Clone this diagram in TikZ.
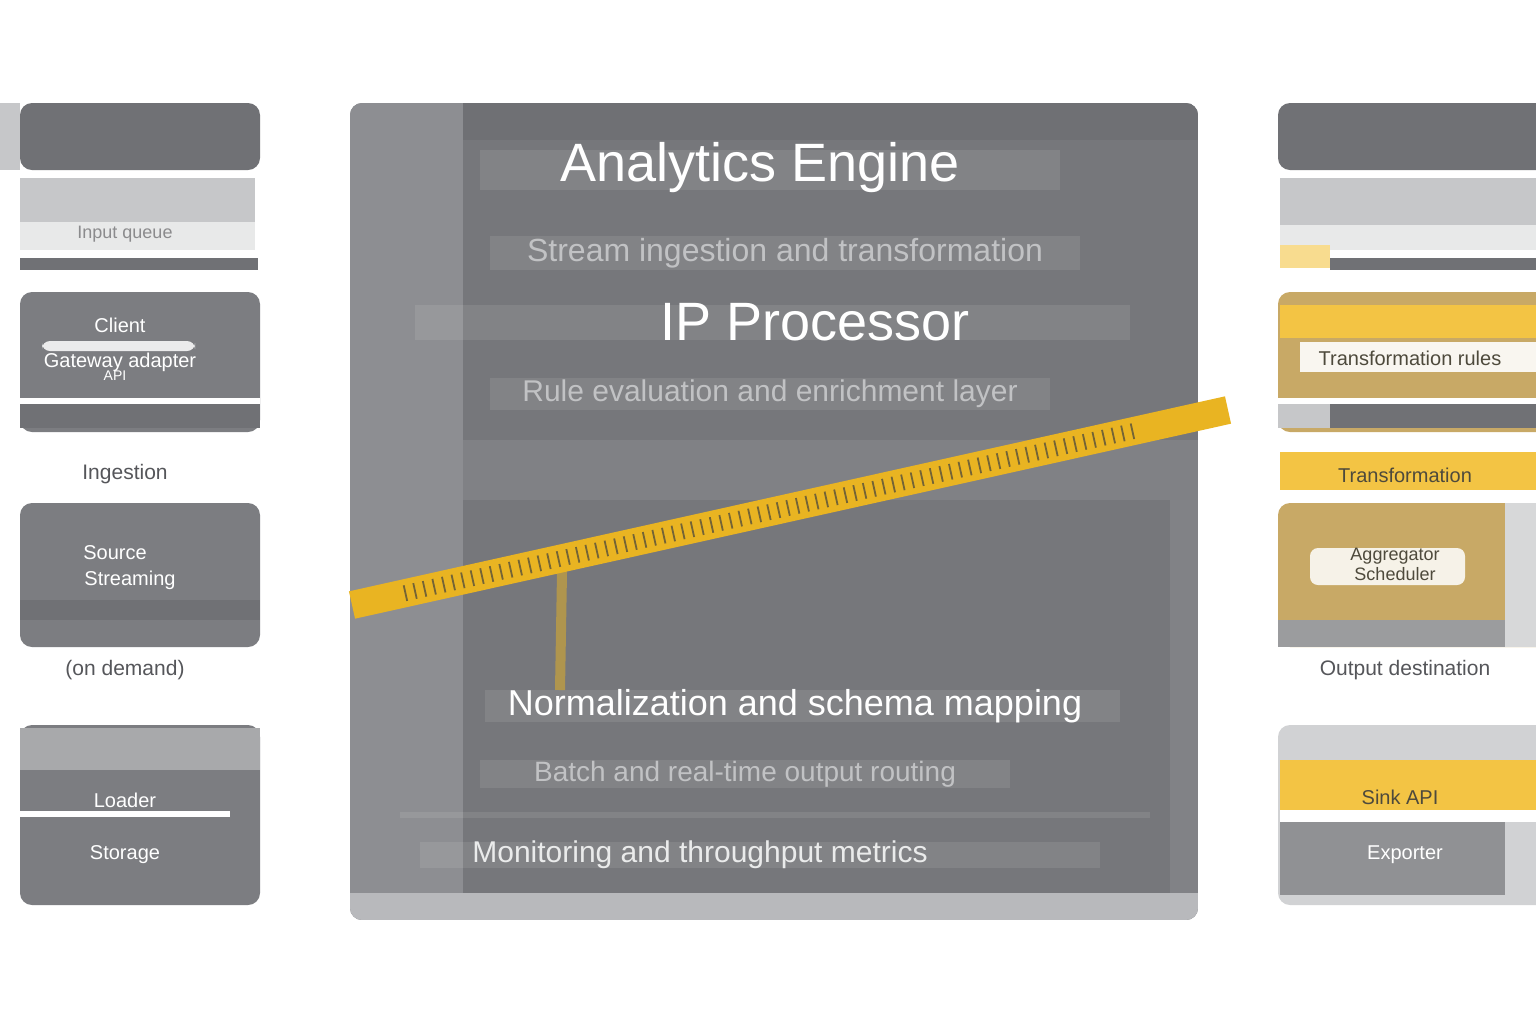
\documentclass[tikz,border=0pt]{standalone}
\usepackage{fontspec}
\setmainfont{Liberation Sans}
\usetikzlibrary{calc,positioning}
\definecolor{panelgray}{HTML}{76777B}
\definecolor{panelstrip}{HTML}{8D8E92}
\definecolor{panelfoot}{HTML}{B8B9BC}
\definecolor{darkbox}{HTML}{707175}
\definecolor{midbox}{HTML}{7C7D81}
\definecolor{lightbox}{HTML}{C6C7C9}
\definecolor{bandyellow}{HTML}{E9B422}
\definecolor{softyellow}{HTML}{F3C444}
\definecolor{tanbox}{HTML}{C8A966}
\definecolor{tickdark}{HTML}{4E4A3C}
\definecolor{labelgray}{HTML}{55565A}

\begin{document}
\begin{tikzpicture}[x=0.5pt,y=-0.5pt,
	boxtext/.style={text=white,font=\fontsize{10}{12}\selectfont},
	darktext/.style={text=tickdark,font=\fontsize{10}{12}\selectfont},
	sidelabel/.style={text=labelgray,font=\fontsize{10.5}{12}\selectfont},
	haze/.style={fill=white,opacity=0.09}]
			%%%%% START %%%%%
			\useasboundingbox (0,0) rectangle (1536,1024);
			\fill[white] (0,0) rectangle (1536,1024);
			
			% centre panel
			\begin{scope}
			\clip[rounded corners=6pt] (350,103) rectangle (1198,920);
			\fill[panelgray] (350,103) rectangle (1198,920);
			\fill[panelstrip] (350,103) rectangle (463,893);
			\fill[panelgray!94!black] (463,103) rectangle (1198,140);
			\fill[panelgray!55!panelstrip] (463,440) rectangle (1198,500);
			\fill[panelgray!92!white] (1170,500) rectangle (1198,893);
			\fill[panelfoot] (350,893) rectangle (1198,920);
			\end{scope}
			
			\fill[haze] (480,150) rectangle (1060,190);
			\fill[haze] (490,236) rectangle (1080,270);
			\fill[haze] (415,305) rectangle (1130,340);
			\fill[haze] (490,378) rectangle (1050,410);
			\fill[haze] (485,690) rectangle (1120,722);
			\fill[haze] (480,760) rectangle (1010,788);
			\fill[haze] (400,812) rectangle (1150,818);
			\fill[haze] (420,842) rectangle (1100,868);
			
			\node[text=white,font=\fontsize{27}{30}\selectfont] (title) at (760,168) {Analytics Engine};
			\node[text=white!55!panelgray,font=\fontsize{16}{19}\selectfont] (sub) at (785,253) {Stream ingestion and transformation};
			\node[text=white,font=\fontsize{27}{30}\selectfont] (proc) at (815,322) {IP Processor};
			\node[text=white!55!panelgray,font=\fontsize{15}{18}\selectfont] (rules) at (770,394) {Rule evaluation and enrichment layer};
			\node[text=white,font=\fontsize{18}{21}\selectfont] (norm) at (795,706) {Normalization and schema mapping};
			\node[text=white!55!panelgray,font=\fontsize{14}{17}\selectfont] (route) at (745,774) {Batch and real-time output routing};
			\node[text=white!85!panelgray,font=\fontsize{15}{18}\selectfont] (mon) at (700,855) {Monitoring and throughput metrics};
			
			% left column
			\fill[lightbox] (0,103) rectangle (20,170);
			\fill[darkbox,rounded corners=6pt] (20,103) rectangle (260,170);
			\fill[lightbox] (20,178) rectangle (255,222);
			\fill[lightbox!40!white] (20,222) rectangle (255,250);
			\node[text=lightbox!70!black,font=\fontsize{9}{11}\selectfont] (inq) at (125,234) {Input queue};
			\fill[darkbox] (20,258) rectangle (258,270);
			
			\fill[midbox,rounded corners=6pt] (20,292) rectangle (260,432);
			\fill[white] (20,398) rectangle (260,404);
			\fill[darkbox] (20,404) rectangle (260,428);
			\fill[white,opacity=0.85,rounded corners=4pt] (42,341) rectangle (195,351);
			\node[boxtext] (client) at (120,325) {Client};
			\node[boxtext] (gate) at (120,362) {Gateway adapter};
			\node[boxtext,font=\fontsize{7}{8}\selectfont] (api) at (115,376) {API};
			\node[sidelabel] (ingest) at (125,474) {Ingestion};
			
			\fill[midbox,rounded corners=6pt] (20,503) rectangle (260,647);
			\fill[darkbox] (20,600) rectangle (260,620);
			\node[boxtext] (source) at (115,553) {Source};
			\node[boxtext] (stream) at (130,580) {Streaming};
			\node[sidelabel] (demand) at (125,670) {(on demand)};
			
			\fill[midbox,rounded corners=6pt] (20,725) rectangle (260,905);
			\fill[lightbox!85!black] (20,728) rectangle (260,770);
			\fill[white] (20,811) rectangle (230,817);
			\node[boxtext] (loader) at (125,800) {Loader};
			\node[boxtext] (storage) at (125,855) {Storage};
			
			% right column
			\fill[darkbox,rounded corners=6pt] (1278,103) rectangle (1560,170);
			\fill[lightbox] (1280,178) rectangle (1536,225);
			\fill[lightbox!40!white] (1280,225) rectangle (1536,250);
			\fill[softyellow!60!white] (1280,245) rectangle (1330,268);
			\fill[darkbox] (1330,258) rectangle (1536,270);
			
			\fill[tanbox,rounded corners=6pt] (1278,292) rectangle (1560,432);
			\fill[softyellow] (1280,305) rectangle (1536,338);
			\fill[white,opacity=0.9] (1300,342) rectangle (1536,372);
			\fill[white] (1278,398) rectangle (1536,404);
			\fill[lightbox] (1278,404) rectangle (1330,428);
			\fill[darkbox] (1330,404) rectangle (1536,428);
			\node[darktext] (trrules) at (1410,358) {Transformation rules};
			
			\fill[softyellow] (1280,452) rectangle (1536,490);
			\node[darktext] (transf) at (1405,475) {Transformation};
			
			\fill[tanbox,rounded corners=6pt] (1278,503) rectangle (1560,647);
			\fill[darkbox!70!white] (1278,620) rectangle (1505,647);
			\fill[lightbox!70!white] (1505,503) rectangle (1536,647);
			\fill[white,opacity=0.85,rounded corners=4pt] (1310,548) rectangle (1465,585);
			\node[darktext,font=\fontsize{9}{10}\selectfont] (aggr) at (1395,556) {Aggregator};
			\node[darktext,font=\fontsize{9}{10}\selectfont] (sched) at (1395,574) {Scheduler};
			\node[sidelabel] (outdest) at (1405,670) {Output destination};
			
			\fill[lightbox!80!white,rounded corners=6pt] (1278,725) rectangle (1560,905);
			\fill[softyellow] (1280,760) rectangle (1536,810);
			\fill[white] (1280,810) rectangle (1536,822);
			\fill[midbox!85!white] (1280,822) rectangle (1505,895);
			\node[darktext] (sink) at (1400,797) {Sink API};
			\node[boxtext] (export) at (1405,855) {Exporter};
			
			% yellow band
			\coordinate (bandstart) at (352,605);
			\coordinate (bandend) at (1228,410);
			\coordinate (drip) at ($(bandstart)!0.24!(bandend)$);
			\coordinate (dripend) at (560,690);
			\draw[line width=5pt,bandyellow,opacity=0.5] (drip) -- (dripend);
			\draw[line width=14pt,bandyellow] (bandstart) -- (bandend);
			\draw[line width=8pt,tickdark,opacity=0.75,dash pattern=on 0.9pt off 4pt] ($(bandstart)!0.06!(bandend)$) -- ($(bandstart)!0.9!(bandend)$);
			%%%%% END %%%%%
		\end{tikzpicture}
\end{document}
